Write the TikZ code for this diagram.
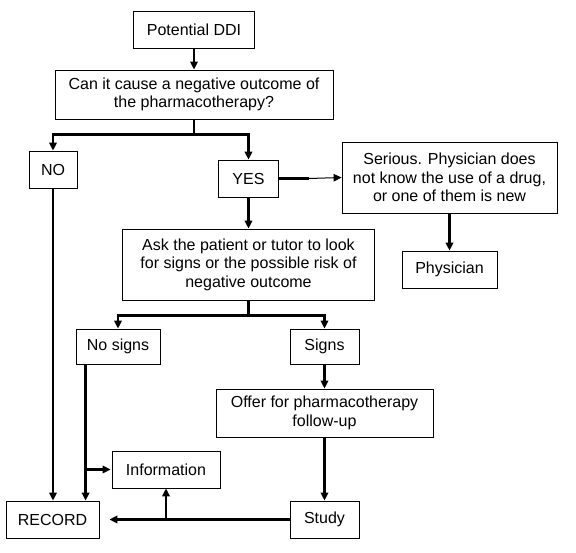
\documentclass[tikz,border=0pt]{standalone}
\usepackage{fontspec}
\setmainfont{Liberation Sans}
\usetikzlibrary{arrows.meta}
\tikzstyle{box}=[draw, line width=0.8pt, align=center, inner sep=0pt, font=\fontsize{16}{18.5}\selectfont]
\tikzstyle{edge}=[draw, line width=2.6pt, -{Triangle[length=8pt,width=7.5pt]}]
\tikzstyle{thinedge}=[draw, line width=1pt, -{Triangle[length=8pt,width=7.5pt]}]

\begin{document}
\begin{tikzpicture}[x=1pt, y=-1pt]

    \useasboundingbox (0,0) rectangle (576,553);

     \foreach \x/\y/\w/\h/\name/\txt in {194/29.5/121/37/ddi/{Potential DDI},
        194/94.5/278/49/q/{Can it cause a negative outcome of\\the pharmacotherapy?},
        53/169.5/48/37/no/{NO},
        248.5/178.5/60/37/yes/{YES},
        449.5/177.5/215/71/serious/{Serious. Physician does\\not know the use of a drug,\\or one of them is new},
        449.5/269.5/95/37/phys/{Physician},
        248.5/264.5/252/71/ask/{Ask the patient or tutor to look\\for signs or the possible risk of\\negative outcome},
        118/346.5/84/35/nosigns/{No signs},
        324.5/346.5/69/35/signs/{Signs},
        324.5/413/217/48/offer/{Offer for pharmacotherapy\\follow-up},
        166/469.5/108/37/info/{Information},
        52.5/519.5/93/37/record/{RECORD},
        324.5/519.5/69/37/study/{Study}}
        \node[box, minimum width=\w pt, minimum height=\h pt] (\name) at (\x,\y) {\txt};

    \foreach \source/ \dest in {ddi/q, yes/ask, serious/phys, signs/offer, offer/study}
        \path[edge] (\source) -- (\dest);

    % split lines
    \foreach \source/ \dest in {q/no, q/yes, ask/nosigns, ask/signs}
        \path[edge] (\source.south) -- ++(0,15) -| (\dest.north);

    \draw[line width=2.6pt] (yes.east) -- ++(30,0) coordinate (yesmid);
    \path[thinedge] (yesmid) -- (serious.west);

    \path[edge] (no.south) -- (no.south |- record.north);

    \coordinate (nsdrop) at ([xshift=10pt]nosigns.south west);
    \path[edge] (nsdrop) -- (nsdrop |- record.north);
    \path[edge, shorten >=1pt] (nsdrop |- info.west) -- (info.west);

    \path[edge, shorten >=10pt] (study.west) -- (record.east);
    \path[edge] (info.south |- study.west) -- (info.south);

\end{tikzpicture}
\end{document}
